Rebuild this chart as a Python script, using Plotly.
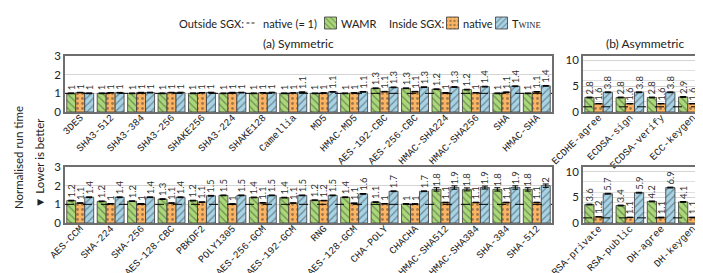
import plotly.graph_objects as go

# ---------------- data ----------------
sym_top_cats = ["3DES", "SHA3-512", "SHA3-384", "SHA3-256", "SHAKE256", "SHA3-224", "SHAKE128",
                "Camellia", "MD5", "HMAC-MD5", "AES-192-CBC", "AES-256-CBC", "HMAC-SHA224",
                "HMAC-SHA256", "SHA", "HMAC-SHA"]
sym_top_wamr = [1.0, 1.0, 1.0, 1.0, 1.0, 1.0, 1.0, 1.0, 1.0, 1.0, 1.27, 1.27, 1.22, 1.2, 1.0, 1.0]
sym_top_native = [1.04, 1.03, 1.04, 1.04, 1.03, 1.04, 1.03, 1.02, 1.02, 1.02, 1.09, 1.09, 1.03, 1.03, 1.06, 1.08]
sym_top_twine = [1.0, 1.03, 1.04, 1.04, 1.04, 1.04, 1.04, 1.06, 1.08, 1.08, 1.32, 1.33, 1.34, 1.36, 1.38, 1.4]

sym_bot_cats = ["AES-CCM", "SHA-224", "SHA-256", "AES-128-CBC", "PBKDF2", "POLY1305", "AES-256-GCM",
                "AES-192-GCM", "RNG", "AES-128-GCM", "CHA-POLY", "CHACHA", "HMAC-SHA512",
                "HMAC-SHA384", "SHA-384", "SHA-512"]
sym_bot_wamr = [1.2, 1.16, 1.17, 1.28, 1.2, 1.48, 1.37, 1.36, 1.22, 1.38, 1.12, 1.02, 1.8, 1.8, 1.8, 1.8]
sym_bot_native = [1.07, 1.03, 1.03, 1.07, 1.12, 1.02, 1.08, 1.07, 1.2, 1.06, 1.03, 1.02, 1.1, 1.1, 1.1, 1.1]
sym_bot_twine = [1.38, 1.38, 1.38, 1.38, 1.46, 1.48, 1.48, 1.48, 1.48, 1.56, 1.7, 1.7, 1.9, 1.9, 1.9, 2.0]
sym_bot_err = [0.02] * 12 + [0.09, 0.08, 0.09, 0.09]

asym_top_cats = ["ECDHE-agree", "ECDSA-sign", "ECDSA-verify", "ECC-keygen"]
asym_top_wamr = [2.8, 2.8, 2.8, 2.9]
asym_top_native = [1.6, 1.6, 1.6, 1.6]
asym_top_twine = [3.8, 3.8, 3.8, 3.9]

asym_bot_cats = ["RSA-private", "RSA-public", "DH-agree", "DH-keygen"]
asym_bot_wamr = [3.6, 3.4, 4.2, 4.1]
asym_bot_native = [1.2, 1.1, 1.1, 1.1]
asym_bot_twine = [5.7, 5.9, 6.9, 7.1]

sym_yticks = [0, 1, 2, 3]
asym_yticks = [0, 5, 10]

series_names = ["WAMR", "native", "T<span style='font-family:Liberation Serif;font-size:8.5px'>WINE</span>"]

# ---------------- style ----------------
GREEN = "#a9d977"
ORANGE = "#fcb462"
BLUE = "#a6d3e6"
EDGE = "#3a3a3a"
FRAME = "#6e6e6e"
SANS = "Lato"
MONO = "Liberation Mono"
W, H = 703, 273


def px_x(v):
    return v / W


def px_y(v):
    return (H - v) / H


def lab(vals):
    out = []
    for v in vals:
        s = f"{v:.1f}"
        if s.endswith(".0"):
            s = s[:-2]
        out.append(s)
    return out


series_style = [(GREEN, "\\", "legend"), (ORANGE, ".", "legend2"), (BLUE, "/", "legend3")]

fig = go.Figure()

panels = [
    ("x", "y", sym_top_cats, [sym_top_wamr, sym_top_native, sym_top_twine], [0.02] * 16, True),
    ("x2", "y2", asym_top_cats, [asym_top_wamr, asym_top_native, asym_top_twine], [0.08] * 4, False),
    ("x3", "y3", sym_bot_cats, [sym_bot_wamr, sym_bot_native, sym_bot_twine], sym_bot_err, False),
    ("x4", "y4", asym_bot_cats, [asym_bot_wamr, asym_bot_native, asym_bot_twine], [0.08] * 4, False),
]

for xa, ya, cats, vals, err, show in panels:
    for i, (col, shape, lg) in enumerate(series_style):
        e = err if i != 1 else [0.015] * len(cats)
        fig.add_trace(go.Bar(
            x=cats, y=vals[i], name="", xaxis=xa, yaxis=ya,
            marker=dict(color=col, line=dict(color=EDGE, width=0.8),
                        pattern=dict(shape=shape, fgcolor="#3c3c3c", size=5, solidity=0.25)),
            text=lab(vals[i]), textposition="outside", textangle=-90,
            textfont=dict(family=SANS, size=9.5, color="#333"),
            constraintext="none", cliponaxis=False,
            error_y=dict(type="data", array=e, color="black", thickness=1, width=3),
            legend=lg, showlegend=show,
        ))

XL = [px_x(57), px_x(544)]
XR = [px_x(575), px_x(700)]
YT = [px_y(104), px_y(48)]
YB = [px_y(215), px_y(159)]

xcommon = dict(type="category", tickangle=-45, showgrid=False, showline=True, mirror=True,
               linecolor=FRAME, linewidth=1.5, ticks="", automargin=False, ticklabelstandoff=-6,
               tickfont=dict(family=MONO, size=10, color="#222"))
ycommon = dict(showline=True, mirror=True, linecolor=FRAME, linewidth=1.5, ticks="",
               gridcolor="#d4d4d4", gridwidth=1, zeroline=False, automargin=False,
               tickfont=dict(family=SANS, size=11.5, color="#222"))

# ---- legend row layout (pixel positions, centred on the figure) ----
LEG_Y = 15
FS = 11
seg = [("Outside SGX:", 63, 7), ("dash", 10, 4), ("native (= 1)", 58, 7), ("sw", 10, 3), ("WAMR", 32, 16),
       ("Inside SGX:", 55, 6), ("sw", 10, 3), ("native", 30, 6), ("sw", 10, 3), (series_names[2], 33, 0)]
total = sum(w + g for _, w, g in seg)
cur = W / 2 - total / 2
pos = []
for name, w, g in seg:
    pos.append((name, cur, w))
    cur += w + g

SW_OFF = 20  # distance from legend box left edge to swatch centre
legend_defs = {}
sw_i = 0
leg_keys = ["legend", "legend2", "legend3"]
annots = []
for name, x0, w in pos:
    if name == "sw":
        cx = x0 + w / 2
        legend_defs[leg_keys[sw_i]] = dict(orientation="h", x=px_x(cx - SW_OFF), xanchor="left",
                                           y=px_y(LEG_Y), yanchor="middle", bgcolor="rgba(0,0,0,0)",
                                           font=dict(family=SANS, size=FS), itemwidth=30)
        sw_i += 1
    elif name == "dash":
        fig.add_shape(type="line", xref="paper", yref="paper", x0=px_x(x0), x1=px_x(x0 + w),
                      y0=px_y(LEG_Y), y1=px_y(LEG_Y), line=dict(color="#222", width=1, dash="3px,2px"))
    else:
        annots.append(dict(text=name, x=px_x(x0), y=px_y(LEG_Y), xanchor="left", textangle=0, size=FS))

fig.update_layout(
    width=W, height=H, margin=dict(l=0, r=0, t=0, b=0, autoexpand=False),
    plot_bgcolor="white", paper_bgcolor="white",
    barmode="group", bargap=0.115, bargroupgap=0,
    xaxis=dict(domain=XL, anchor="y", **xcommon),
    yaxis=dict(domain=YT, anchor="x", range=[0, 3], tickvals=sym_yticks, **ycommon),
    xaxis2=dict(domain=XR, anchor="y2", **xcommon),
    yaxis2=dict(domain=YT, anchor="x2", range=[0, 10.8], tickvals=asym_yticks,
                minor=dict(dtick=2, showgrid=True, gridcolor="#e0e0e0"), **ycommon),
    xaxis3=dict(domain=XL, anchor="y3", **xcommon),
    yaxis3=dict(domain=YB, anchor="x3", range=[0, 3], tickvals=sym_yticks, **ycommon),
    xaxis4=dict(domain=XR, anchor="y4", **xcommon),
    yaxis4=dict(domain=YB, anchor="x4", range=[0, 10.9], tickvals=asym_yticks,
                minor=dict(dtick=2, showgrid=True, gridcolor="#e0e0e0"), **ycommon),
    showlegend=True,
    **legend_defs,
)

# dashed baseline (native outside SGX = 1)
for xa, ya in [("x", "y"), ("x2", "y2"), ("x3", "y3"), ("x4", "y4")]:
    fig.add_shape(type="line", xref=f"{xa} domain", yref=ya, x0=0, x1=1, y0=1, y1=1,
                  line=dict(color="black", width=1, dash="dash"), layer="above")

annots += [
    dict(text="(a) Symmetric", x=px_x(290), y=px_y(36), xanchor="center", textangle=0, size=12),
    dict(text="(b) Asymmetric", x=px_x(637), y=px_y(36), xanchor="center", textangle=0, size=12),
    dict(text="Normalised run time", x=px_x(10), y=px_y(150), xanchor="center", textangle=-90, size=11.5),
    dict(text="▼ Lower is better", x=px_x(31), y=px_y(155), xanchor="center", textangle=-90, size=11.5),
]
for a in annots:
    sz = a.pop("size")
    fig.add_annotation(xref="paper", yref="paper", showarrow=False, yanchor="middle",
                       font=dict(family=SANS, size=sz, color="#222"), **a)

fig.write_html("out.html")
